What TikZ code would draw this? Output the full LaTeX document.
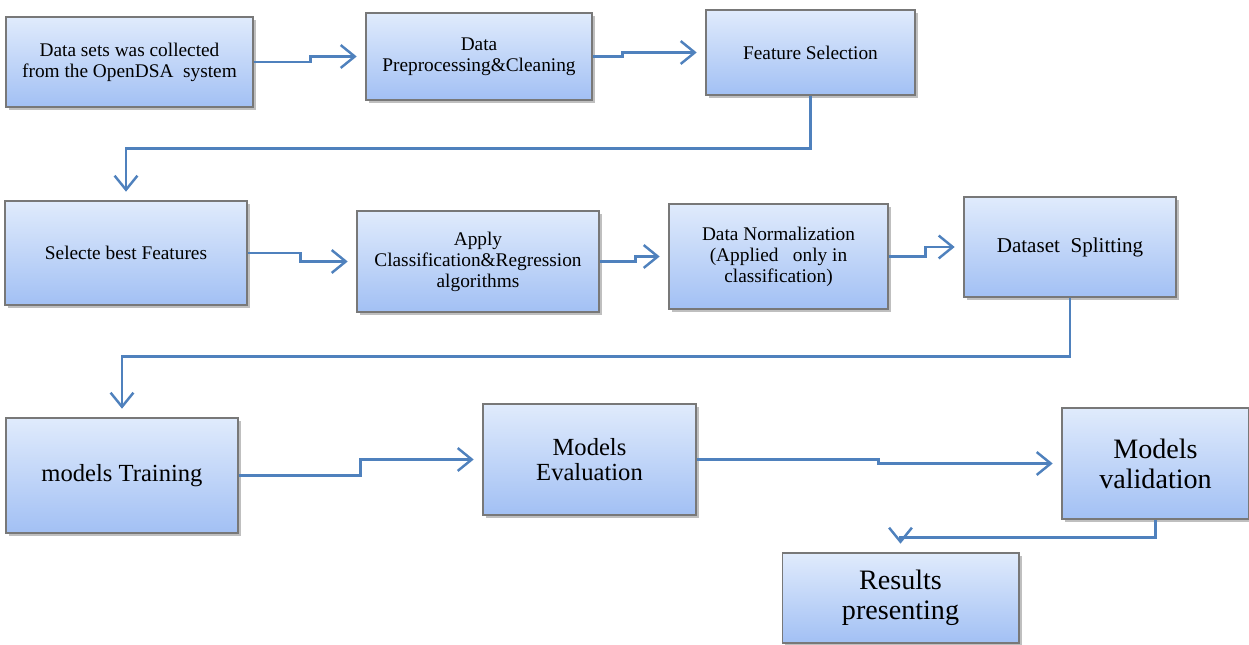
\documentclass[tikz,border=0pt]{standalone}
\usepackage{fontspec}
\setmainfont{Liberation Serif}
\usetikzlibrary{arrows.meta,shadows,calc}
\definecolor{arr}{RGB}{79,129,189}
\definecolor{bord}{RGB}{120,120,120}
\definecolor{topc}{RGB}{224,235,252}
\definecolor{botc}{RGB}{162,192,244}
\tikzset{
 box/.style={draw=bord, line width=0.6pt, top color=topc, bottom color=botc, align=center, inner sep=2pt,
   drop shadow={shadow xshift=1.6pt, shadow yshift=-1.6pt, fill=black!50, opacity=0.5}},
 conn/.style={draw=arr, line width=1.4pt, -{Straight Barb[length=8pt,width=13pt,line width=1.4pt]}, shorten >=5pt},
 fs/.style={font=\fontsize{11}{12}\selectfont},
 fd/.style={font=\fontsize{12}{13}\selectfont},
 fm/.style={font=\fontsize{14}{14.5}\selectfont},
 fl/.style={font=\fontsize{16}{17}\selectfont},
}
\begin{document}
\begin{tikzpicture}[x=0.02cm,y=-0.02cm]
\useasboundingbox (0,0) rectangle (1249,645);
\node[box,fs,minimum width=4.94cm,minimum height=1.80cm] (b1) at (129.5,62) {Data sets was collected\\from the OpenDSA\ \ system};
\node[box,fs,minimum width=4.52cm,minimum height=1.74cm] (b2) at (479,56.5) {Data\\Preprocessing\&Cleaning};
\node[box,fs,minimum width=4.18cm,minimum height=1.70cm] (b3) at (810.5,52.5) {Feature Selection};
\node[box,fs,minimum width=4.84cm,minimum height=2.08cm] (b4) at (126,253) {Selecte best Features};
\node[box,fs,minimum width=4.84cm,minimum height=2.02cm] (b5) at (478,261.5) {Apply\\Classification\&Regression\\algorithms};
\node[box,fs,minimum width=4.38cm,minimum height=2.10cm] (b6) at (778.5,256.5) {Data Normalization\\(Applied\ \ \ only in\\classification)};
\node[box,fd,minimum width=4.24cm,minimum height=2.00cm] (b7) at (1070,247) {Dataset\ \ Splitting};
\node[box,fm,minimum width=4.64cm,minimum height=2.30cm] (b8) at (122,475.5) {models Training};
\node[box,fm,minimum width=4.26cm,minimum height=2.22cm] (b9) at (589.5,459.5) {Models\\Evaluation};
\node[box,fl,minimum width=3.74cm,minimum height=2.22cm] (b10) at (1155.5,463.5) {Models\\validation};
\node[box,fl,minimum width=4.74cm,minimum height=1.80cm] (b11) at (900.5,598) {Results\\presenting};

\draw[conn] (b1.east) -- ++(57,0) |- (b2.west);
\draw[conn] (b2.east) -- ++(30,0) |- (b3.west);
\draw[conn] (b3.south) -- ++(0,53) -| (b4.north);
\draw[conn] (b4.east) -- ++(53,0) |- (b5.west);
\draw[conn] (b5.east) -- ++(36,0) |- (b6.west);
\draw[conn] (b6.east) -- ++(37,0) |- (b7.west);
\draw[conn] (b7.south) -- ++(0,59) -| (b8.north);
\draw[conn] (b8.east) -- ++(122,0) |- (b9.west);
\draw[conn] (b9.east) -- ++(182,0) |- (b10.west);
\draw[conn] (b10.south) -- ++(0,18) -| (b11.north);
\end{tikzpicture}
\end{document}
